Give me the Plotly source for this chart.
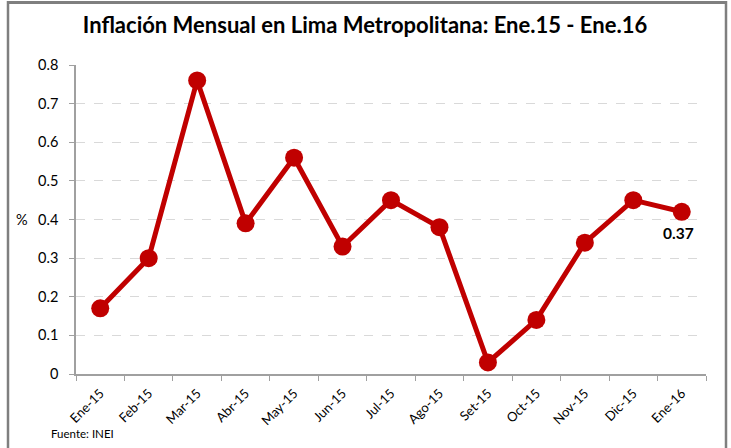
import plotly.graph_objects as go

months = ["Ene-15", "Feb-15", "Mar-15", "Abr-15", "May-15", "Jun-15", "Jul-15",
          "Ago-15", "Set-15", "Oct-15", "Nov-15", "Dic-15", "Ene-16"]
inflation = [0.17, 0.30, 0.76, 0.39, 0.56, 0.33, 0.45, 0.38, 0.03, 0.14, 0.34, 0.45, 0.42]
last_label = "0.37"
y_ticks = [0, 0.1, 0.2, 0.3, 0.4, 0.5, 0.6, 0.7, 0.8]
y_tick_text = ["0", "0.1", "0.2", "0.3", "0.4", "0.5", "0.6", "0.7", "0.8"]

W, H = 731, 448
L, R, T, B = 76, 25, 65, 74
pw, ph = W - L - R, H - T - B

def px_x(x):
    return (x - L) / pw

def px_y(y):
    return (H - B - y) / ph

fig = go.Figure()
fig.add_trace(go.Scatter(
    x=months, y=inflation, mode="lines+markers",
    line=dict(color="#C00000", width=5),
    marker=dict(color="#C00000", size=18),
    hoverinfo="x+y", showlegend=False,
))

border = dict(color="#7F7F7F", width=2.5)
font = "Lato, 'Open Sans', sans-serif"
fig.update_layout(
    width=W, height=H,
    margin=dict(l=L, r=R, t=T, b=B),
    paper_bgcolor="white", plot_bgcolor="white",
    font=dict(family=font, color="#000000", size=12),
    title=dict(text="<b>Inflación Mensual en Lima Metropolitana: Ene.15 - Ene.16</b>",
               x=px_x(365), xanchor="center", y=1 - 25 / H, yanchor="middle",
               xref="paper",
               font=dict(size=22, family=font, color="#000000")),
    xaxis=dict(type="category", range=[-0.5, 12.5], tickson="boundaries",
               ticks="outside", ticklen=5, tickcolor="#A0A0A0",
               showline=True, linecolor="#A0A0A0", linewidth=1.5,
               showgrid=False, tickangle=-45, tickfont=dict(size=13),
               ticklabelstandoff=5),
    yaxis=dict(range=[0, 0.8], tickvals=y_ticks, ticktext=y_tick_text,
               ticks="outside", ticklen=5, tickcolor="#A0A0A0",
               showline=True, linecolor="#A0A0A0", linewidth=1.5,
               showgrid=True, gridcolor="#D9D9D9", griddash="dash", gridwidth=1,
               zeroline=False, tickfont=dict(size=14.5), ticklabelstandoff=8),
    shapes=[
        dict(type="line", xref="paper", yref="paper",
             x0=px_x(8), x1=px_x(8), y0=px_y(1), y1=px_y(448), line=border),
        dict(type="line", xref="paper", yref="paper",
             x0=px_x(726), x1=px_x(726), y0=px_y(1), y1=px_y(448), line=border),
    ],
    annotations=[
        dict(text="", xref="paper", yref="paper", x=px_x(367), y=px_y(2),
             showarrow=False, xanchor="center", yanchor="middle",
             width=716, height=1, bgcolor="#7F7F7F", borderwidth=1,
             bordercolor="#7F7F7F", borderpad=0),
        dict(text="%", xref="paper", yref="paper", x=px_x(22), y=px_y(220),
             showarrow=False, xanchor="center", yanchor="middle",
             font=dict(size=14.5)),
        dict(text="Fuente: INEI", xref="paper", yref="paper", x=px_x(49), y=px_y(433),
             showarrow=False, xanchor="left", yanchor="middle",
             font=dict(size=11.5)),
        dict(text="<b>" + last_label + "</b>", x=months[-1], y=inflation[-1],
             xref="x", yref="y", showarrow=False, yshift=-21, xshift=-3,
             font=dict(size=15.5)),
    ],
)

fig.write_html("out.html", config={"displayModeBar": False},
               post_script="document.body.style.margin='0';")
